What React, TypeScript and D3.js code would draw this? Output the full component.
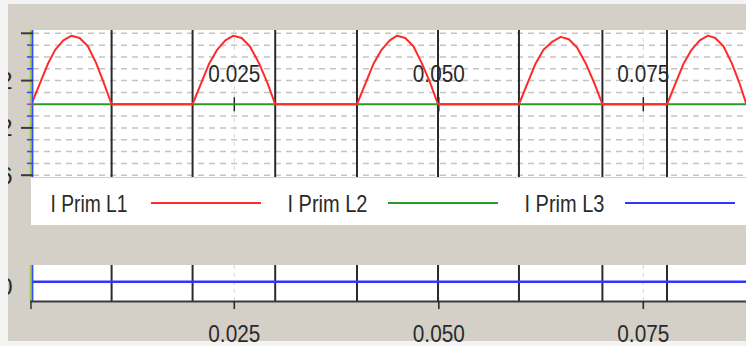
import React from "react";
import * as d3 from "d3";

// ---- data ----
const seriesNames = ["I Prim L1", "I Prim L2", "I Prim L3"];
const seriesColors = ["#ff2a2a", "#2a9a2a", "#3434ff"];

// I Prim L1 (red): half-wave rectified current, [time s, value]
const primL1: [number, number][] = [
  [0.0002, 0], [0.0012, 1.7], [0.0022, 3.4], [0.0031, 4.6], [0.0041, 5.4], [0.0051, 5.8],
  [0.0061, 5.6], [0.0071, 4.9], [0.0081, 3.5], [0.0090, 1.9], [0.0100, 0],
  [0.0199, 0], [0.0209, 1.7], [0.0219, 3.4], [0.0229, 4.6], [0.0239, 5.4], [0.0249, 5.8],
  [0.0259, 5.6], [0.0269, 4.9], [0.0280, 3.5], [0.0290, 1.9], [0.0300, 0],
  [0.0400, 0], [0.0410, 1.7], [0.0420, 3.4], [0.0430, 4.6], [0.0440, 5.4], [0.0449, 5.8],
  [0.0459, 5.6], [0.0469, 4.9], [0.0479, 3.5], [0.0489, 1.9], [0.0499, 0],
  [0.0598, 0], [0.0608, 1.7], [0.0618, 3.4], [0.0628, 4.6], [0.0639, 5.3], [0.0649, 5.7],
  [0.0659, 5.5], [0.0669, 4.8], [0.0680, 3.4], [0.0690, 1.8], [0.0700, 0],
  [0.0779, 0], [0.0789, 1.7], [0.0799, 3.4], [0.0809, 4.6], [0.0819, 5.4], [0.0829, 5.8],
  [0.0838, 5.6], [0.0848, 4.9], [0.0858, 3.5], [0.0867, 1.9], [0.0876, 0],
];
// I Prim L2 (green)
const primL2: [number, number][] = [[0.0002, 0], [0.0876, 0]];
// I Prim L3 (blue, lower pane)
const primL3: [number, number][] = [[0.0002, 0], [0.0876, 0]];

// event markers (black vertical lines)
const markerTimes = [0.0100, 0.0199, 0.0300, 0.0400, 0.0499, 0.0598, 0.0700, 0.0779];

// x tick labels
const xTicks = [0.025, 0.05, 0.075];
const xTickLabels = ["0.025", "0.050", "0.075"];

// y axis (upper pane)
const yMajorTicks = [6, 2, -2, -6];
const yMinorTicks = [-5, -4, -3, -1, 0, 1, 3, 4, 5];
const yGridValues = [6, 5, 4, 3, 2, 1, -1, -2, -3, -4, -5, -6];
const yLabelValues = [2, -2, -6];
const yLabelTexts = ["2", "-2", "-6"];

// ---- layout ----
const W = 746, H = 346;
const TOP = { x0: 33, x1: 746, y0: 30, y1: 177 };
const LEG = { x0: 31, x1: 746, y0: 178, y1: 225 };
const BOT = { x0: 33, x1: 746, y0: 265, y1: 301 };

const GRAY = "#d4d0c8";
const FONT = "'Liberation Sans', Arial, sans-serif";

export default function App() {
  const x = d3.scaleLinear().domain([0, 0.0876]).range([29.8, 29.8 + 0.0876 * 8180]);
  const y = d3.scaleLinear().domain([-6, 6]).range([175.2, 33.3]);
  const yb = d3.scaleLinear().domain([-1, 1]).range([299.5, 264]);

  const lineTop = d3.line<[number, number]>().x((d) => x(d[0])).y((d) => y(d[1]));
  const lineBot = d3.line<[number, number]>().x((d) => x(d[0])).y((d) => yb(d[1]));

  const tickLabelProps = {
    fontFamily: FONT,
    fontSize: 24,
    fill: "#2a2a2a",
    textAnchor: "middle" as const,
    textLength: 52,
    lengthAdjust: "spacingAndGlyphs" as const,
  };

  return (
    <div style={{ position: "fixed", left: 0, top: 0, width: W, height: H }}>
      <svg width={W} height={H} viewBox={`0 0 ${W} ${H}`} style={{ display: "block" }}>
        <defs>
          <clipPath id="clipTop">
            <rect x={TOP.x0} y={TOP.y0} width={TOP.x1 - TOP.x0} height={TOP.y1 - TOP.y0} />
          </clipPath>
          <clipPath id="clipBot">
            <rect x={BOT.x0} y={BOT.y0} width={BOT.x1 - BOT.x0} height={BOT.y1 - BOT.y0} />
          </clipPath>
          <clipPath id="clipLeft">
            <rect x={8} y={4} width={20} height={337} />
          </clipPath>
        </defs>

        {/* frame */}
        <rect x={0} y={0} width={W} height={H} fill="#f3f3f3" />
        <rect x={8} y={4} width={W - 8} height={337} fill={GRAY} />

        {/* ---------- upper pane ---------- */}
        <rect x={TOP.x0} y={TOP.y0} width={TOP.x1 - TOP.x0} height={TOP.y1 - TOP.y0} fill="#ffffff" />
        <g clipPath="url(#clipTop)">
          {yGridValues.map((v) => (
            <line key={"hg" + v} x1={TOP.x0} x2={TOP.x1} y1={y(v)} y2={y(v)}
              stroke="#c4c4c4" strokeWidth={1.5} strokeDasharray="6,5" />
          ))}
          {xTicks.map((t) => (
            <line key={"vg" + t} x1={x(t)} x2={x(t)} y1={TOP.y0} y2={TOP.y1}
              stroke="#d6d6d6" strokeWidth={1} strokeDasharray="4,4" />
          ))}
          {xTicks.map((t, i) => (
            <text key={"xl" + t} x={x(t)} y={82} {...tickLabelProps}>{xTickLabels[i]}</text>
          ))}
          {xTicks.map((t) => (
            <line key={"xt" + t} x1={x(t)} x2={x(t)} y1={y(0) - 7} y2={y(0) + 7}
              stroke="#222" strokeWidth={1.5} />
          ))}
          {markerTimes.map((t) => (
            <line key={"mk" + t} x1={x(t)} x2={x(t)} y1={TOP.y0} y2={TOP.y1}
              stroke="#2b2b2b" strokeWidth={2} />
          ))}
          <path d={lineTop(primL2) || ""} fill="none" stroke={seriesColors[1]} strokeWidth={2} />
          <path d={lineTop(primL1) || ""} fill="none" stroke={seriesColors[0]} strokeWidth={2}
            strokeLinejoin="round" />
        </g>
        {/* y axis */}
        <line x1={30.5} x2={30.5} y1={TOP.y0} y2={TOP.y1} stroke="#a8c850" strokeWidth={1.6} />
        <line x1={32.5} x2={32.5} y1={TOP.y0} y2={TOP.y1} stroke="#2e50ff" strokeWidth={1.8} />
        {yMinorTicks.map((v) => (
          <line key={"ym" + v} x1={27} x2={33} y1={y(v)} y2={y(v)}
            stroke={v === 0 ? "#b040d0" : "#2e50ff"} strokeWidth={1.6} />
        ))}
        {yMajorTicks.map((v) => (
          <line key={"yM" + v} x1={21} x2={33} y1={y(v)} y2={y(v)} stroke="#3a3a3a" strokeWidth={2} />
        ))}
        <g clipPath="url(#clipLeft)">
          {yLabelValues.map((v, i) => (
            <text key={"yl" + v} x={12.5} y={y(v) + 8.5} fontFamily={FONT} fontSize={24}
              fill="#2a2a2a" textAnchor="end">{yLabelTexts[i]}</text>
          ))}
          <text x={12.5} y={yb(0) + 13} fontFamily={FONT} fontSize={24} fill="#2a2a2a"
            textAnchor="end">0</text>
        </g>

        {/* ---------- legend ---------- */}
        <rect x={LEG.x0} y={LEG.y0} width={LEG.x1 - LEG.x0} height={LEG.y1 - LEG.y0} fill="#ffffff" />
        {seriesNames.map((name, i) => {
          const ex = 50.5 + i * 237;
          return (
            <g key={name}>
              <text x={ex} y={212} fontFamily={FONT} fontSize={24} fill="#2a2a2a"
                textLength={i === 0 ? 77 : 80} lengthAdjust="spacingAndGlyphs">{name}</text>
              <line x1={ex + 100.5} x2={ex + 210.5} y1={203} y2={203}
                stroke={seriesColors[i]} strokeWidth={2} />
            </g>
          );
        })}

        {/* ---------- lower pane ---------- */}
        <rect x={BOT.x0} y={BOT.y0} width={BOT.x1 - BOT.x0} height={BOT.y1 - BOT.y0} fill="#ffffff" />
        <g clipPath="url(#clipBot)">
          {xTicks.map((t) => (
            <line key={"bvg" + t} x1={x(t)} x2={x(t)} y1={BOT.y0} y2={BOT.y1}
              stroke="#d6d6d6" strokeWidth={1} strokeDasharray="4,4" />
          ))}
          {markerTimes.map((t) => (
            <line key={"bmk" + t} x1={x(t)} x2={x(t)} y1={BOT.y0} y2={BOT.y1}
              stroke="#2b2b2b" strokeWidth={2} />
          ))}
          <path d={lineBot(primL3) || ""} fill="none" stroke={seriesColors[2]} strokeWidth={2.5} />
        </g>
        <line x1={30.5} x2={30.5} y1={BOT.y0} y2={BOT.y1} stroke="#a8c850" strokeWidth={1.6} />
        <line x1={32.5} x2={32.5} y1={BOT.y0} y2={BOT.y1} stroke="#2e50ff" strokeWidth={1.8} />
        {/* x axis */}
        <line x1={30} x2={W} y1={301.5} y2={301.5} stroke="#3a3a3a" strokeWidth={2} />
        <line x1={31} x2={31} y1={301} y2={309} stroke="#3a3a3a" strokeWidth={1.6} />
        {xTicks.map((t) => (
          <line key={"bt" + t} x1={x(t)} x2={x(t)} y1={301} y2={309} stroke="#2a2a2a" strokeWidth={1.6} />
        ))}
        {xTicks.map((t, i) => (
          <text key={"bl" + t} x={x(t)} y={342} {...tickLabelProps}>{xTickLabels[i]}</text>
        ))}
      </svg>
    </div>
  );
}
